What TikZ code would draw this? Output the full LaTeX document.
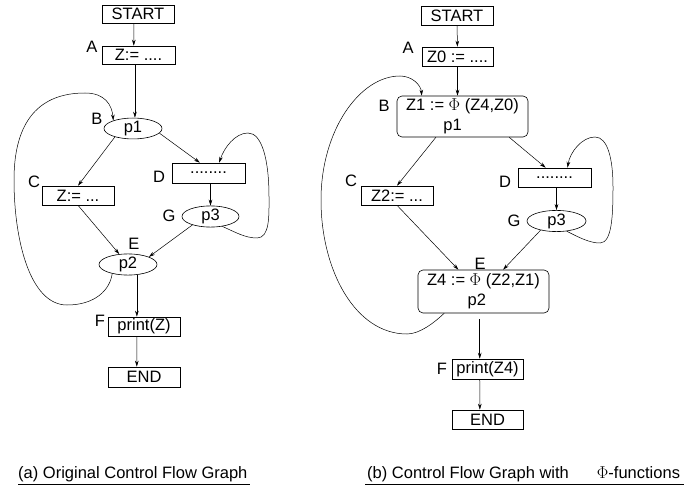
\documentclass[tikz,border=0pt]{standalone}
\usepackage{fontspec}
\setmainfont{Liberation Sans}
\usetikzlibrary{arrows.meta,shapes.geometric}

\begin{document}
\begin{tikzpicture}[
  x=1bp,y=-1bp,
  >={Stealth[length=6bp,width=3.6bp]},
  every node/.style={font=\fontsize{16.5bp}{20bp}\selectfont,inner sep=0pt},
  block/.style={draw,line width=.6bp,minimum width=72bp,minimum height=19bp},
  test/.style={draw,ellipse,line width=.6bp,minimum width=58bp,minimum height=18bp},
  phibox/.style={draw,rounded corners=5bp,line width=.6bp,minimum width=131bp,minimum height=42bp,align=center},
  flow/.style={->,line width=.5bp}
]
  \useasboundingbox (0,0) rectangle (693,495);

  % (a) original graph
  \node[block,minimum height=18bp] (startL) at (138,14) {START};
  \node[block,minimum width=73bp,minimum height=18bp] (aL) at (138.5,55) {Z:= ....};
  \node[test,minimum height=17bp] (bL) at (133,128.5) {p1};
  \node[block] (cL) at (78,195.5) {Z:= ...};
  \node[block,minimum width=73bp,minimum height=20bp] (dL) at (208.5,173) {........};
  \node[test,minimum width=57bp,minimum height=19bp] (gL) at (210.5,216.5) {p3};
  \node[test,minimum height=19bp] (eL) at (128,264.5) {p2};
  \node[block] (fL) at (144,326.5) {print(Z)};
  \node[block,minimum height=20bp] (endL) at (144,377) {END};

  \node (tagAL) at (92,47) {A};
  \node (tagBL) at (97,119) {B};
  \node (tagCL) at (34,182) {C};
  \node (tagDL) at (159,177) {D};
  \node (tagEL) at (134,244) {E};
  \node (tagGL) at (169,216) {G};
  \node (tagFL) at (100,321) {F};

  \draw[flow] (startL.246) -- (aL.117);
  \draw[flow] (aL.249) -- (aL.249 |- bL.north);
  \draw[flow] (bL.-155) -- (cL.north);
  \draw[flow] (bL.-10) -- (dL.130);
  \draw[flow] (gL.north |- dL.south) -- (gL.north);
  \draw[flow] (cL.south) -- (eL.130);
  \draw[flow] (gL.-155) -- (eL.20);
  \draw[flow] (eL.south -| fL.126) -- (fL.126);
  \draw[flow] (fL.234) -- (endL.125);
  % back edges
  \draw[flow] (eL.-150) .. controls (110,290) and (95,305) .. (67,305)
    .. controls (30,305) and (14,240) .. (14,180)
    .. controls (14,120) and (40,93) .. (85,93)
    .. controls (105,93) and (112,105) .. (bL.158);
  \draw[flow] (gL.-40) .. controls (235,232) and (245,238) .. (257,238)
    .. controls (270,238) and (269,215) .. (269,197)
    .. controls (269,160) and (262,133) .. (248,133)
    .. controls (235,133) and (224,148) .. (dL.44);

  % (b) graph with phi-functions
  \node[block] (startR) at (457,15.5) {START};
  \node[block,minimum width=71bp] (aR) at (457.5,56.5) {Z0 := ....};
  \node[phibox,minimum height=41bp] (bR) at (462.5,116.5) {Z1 := $\Phi$ (Z4,Z0)\\\hspace*{-1.2em}p1};
  \node[block] (cR) at (397,195.5) {Z2:= ...};
  \node[block,minimum width=73bp] (dR) at (554.5,177.5) {........};
  \node[test,minimum width=59bp] (gR) at (556.5,221) {p3};
  \node[phibox,minimum height=43bp] (eR) at (483.5,291.5) {Z4 := $\Phi$ (Z2,Z1)\\\hspace*{-0.8em}p2};
  \node[block,minimum width=71bp,minimum height=20bp] (fR) at (487.5,369) {print(Z4)};
  \node[block,minimum width=71bp] (endR) at (487.5,419.5) {END};

  \node (tagAR) at (408,48) {A};
  \node (tagBR) at (384,106) {B};
  \node (tagCR) at (351,181) {C};
  \node (tagDR) at (505,182) {D};
  \node (tagER) at (480,264) {E};
  \node (tagGR) at (514,221) {G};
  \node (tagFR) at (442,369) {F};

  \draw[flow] (startR) -- (aR);
  \draw[flow] (aR.south) -- (aR.south |- bR.north);
  \draw[flow] (bR.218) -- (cR.north);
  \draw[flow] (bR.-24) -- (dR.132);
  \draw[flow] (gR.north |- dR.south) -- (gR.north);
  \draw[flow] (cR.south) -- (eR.139);
  \draw[flow] (gR.-150) -- (eR.48);
  \draw[flow,shorten <=6bp] (eR.south -| fR.127) -- (fR.127);
  \draw[flow] (fR.233) -- (endR.128);
  % back edges
  \draw[flow] (eR.209) .. controls (435,322) and (420,334) .. (407,334)
    .. controls (355,334) and (321,270) .. (321,200)
    .. controls (321,130) and (360,76) .. (400,76)
    .. controls (412,76) and (421,85) .. (bR.153);
  \draw[flow] (gR.-45) .. controls (580,238) and (590,243) .. (600,243)
    .. controls (612,243) and (613,215) .. (613,187)
    .. controls (613,160) and (608,137) .. (595,137)
    .. controls (582,137) and (570,152) .. (dR.37);

  % captions
  \node[anchor=base west] (capA) at (18,478) {(a) Original Control Flow Graph};
  \draw[line width=.6bp] ([yshift=-6bp]capA.base west) -- ([yshift=-6bp,xshift=2bp]capA.base east);
  \node[anchor=base west] (capB) at (367,478) {(b) Control Flow Graph with\hspace{1.7em}$\Phi$-functions};
  \draw[line width=.6bp] ([yshift=-6bp,xshift=-2bp]capB.base west) -- ([yshift=-6bp,xshift=4bp]capB.base east);
\end{tikzpicture}
\end{document}
